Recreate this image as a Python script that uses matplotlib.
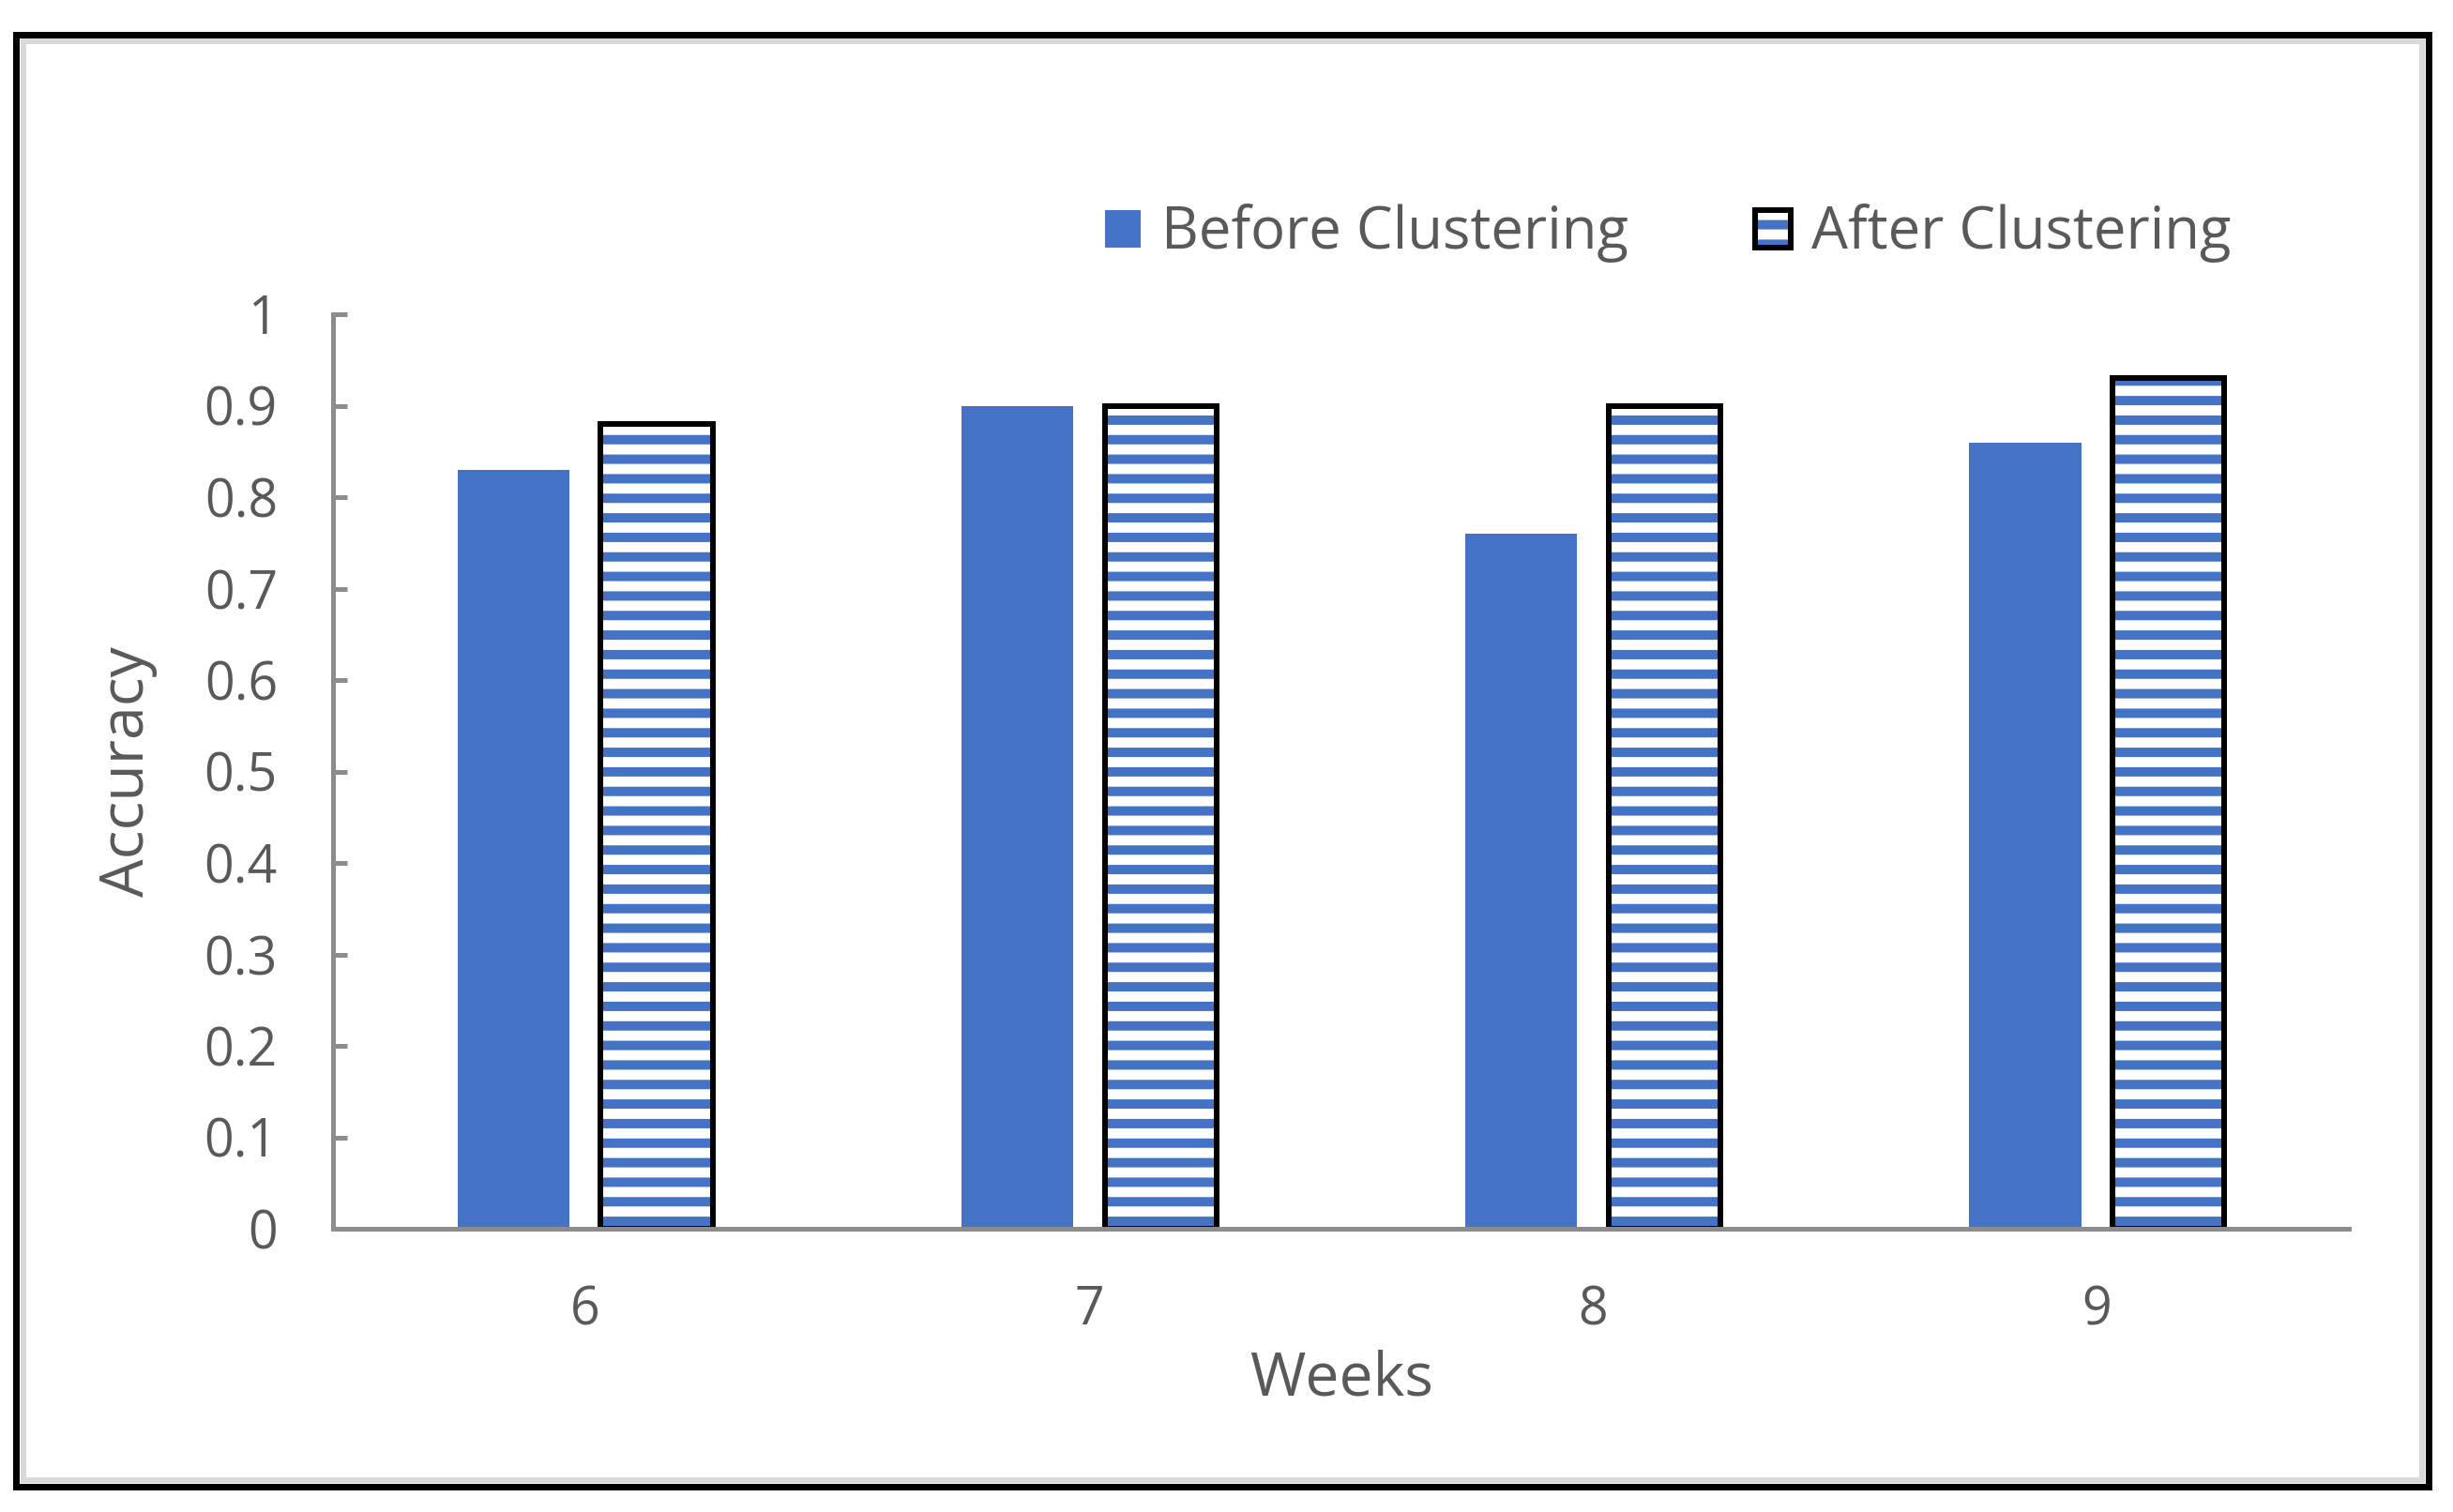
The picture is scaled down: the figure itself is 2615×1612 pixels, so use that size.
import numpy as np
import matplotlib
matplotlib.use('Agg')
import matplotlib.pyplot as plt
from matplotlib.patches import Rectangle
from matplotlib.legend_handler import HandlerTuple

# data
weeks = ['6', '7', '8', '9']
before = [0.83, 0.90, 0.76, 0.86]
after = [0.88, 0.90, 0.90, 0.93]
yticks = [0, 0.1, 0.2, 0.3, 0.4, 0.5, 0.6, 0.7, 0.8, 0.9, 1]

W, H, DPI = 2615, 1612, 125
px = 72.0 / DPI   # one pixel in points

plt.rcParams['font.family'] = ['Open Sans', 'DejaVu Sans']
plt.rcParams['hatch.linewidth'] = 10 * px

blue = '#4472C4'
grey_txt = '#595959'
grey_ax = '#8c8c8c'

fig = plt.figure(figsize=(W / DPI, H / DPI), dpi=DPI)
ax = fig.add_axes([355 / W, 1 - 1310 / H, (2504 - 355) / W, (1310 - 335) / H])

x = np.arange(len(weeks))
bw = 0.222
off = 0.142
b1 = ax.bar(x - off, before, bw, color=blue, linewidth=0)
# stripes first, then a black outline on top
b2 = ax.bar(x + off, after, bw, color='white', edgecolor=blue, hatch='-', linewidth=0)
b3 = ax.bar(x + off, after, bw, fill=False, edgecolor='black', linewidth=6 * px)

ax.set_xlim(-0.5, 3.5)
ax.set_ylim(0, 1)
ax.set_xticks(x)
ax.set_xticklabels(weeks)
ax.set_yticks(yticks)
ax.set_yticklabels(['%g' % v for v in yticks])

for s in ['top', 'right']:
    ax.spines[s].set_visible(False)
for s in ['left', 'bottom']:
    ax.spines[s].set_color(grey_ax)
    ax.spines[s].set_linewidth(5 * px)

ax.tick_params(axis='y', direction='in', length=15 * px, width=5 * px, color=grey_ax,
               labelsize=32, labelcolor=grey_txt, pad=34)
ax.tick_params(axis='x', length=0, labelsize=32, labelcolor=grey_txt, pad=34)

ax.set_ylabel('Accuracy', fontsize=37, color=grey_txt)
ax.yaxis.set_label_coords(-0.087, 0.5)
fig.text(1430 / W, 1 - 1487 / H, 'Weeks', fontsize=37, color=grey_txt,
         ha='center', va='baseline')

leg = fig.legend([b1[0], (b2[0], b3[0])], ['Before Clustering', 'After Clustering'],
                 ncol=2, loc='center left', bbox_to_anchor=(1178 / W, 1 - 249 / H),
                 frameon=False, fontsize=35.5, handlelength=0.61, handleheight=0.63,
                 handletextpad=0.36, columnspacing=2.2, borderpad=0, borderaxespad=0,
                 handler_map={tuple: HandlerTuple(ndivide=1, pad=0)})
for t in leg.get_texts():
    t.set_color(grey_txt)

# picture frame around the chart
fig.add_artist(Rectangle((25 / W, 1 - 1578 / H), (2582 - 25) / W, (1578 - 44) / H,
                         transform=fig.transFigure, fill=False,
                         edgecolor='#d9d9d9', linewidth=6 * px))
fig.add_artist(Rectangle((16.5 / W, 1 - 1585 / H), (2588.5 - 16.5) / W, (1585 - 36.5) / H,
                         transform=fig.transFigure, fill=False,
                         edgecolor='black', linewidth=7 * px))

fig.savefig('out.png', dpi=DPI)
